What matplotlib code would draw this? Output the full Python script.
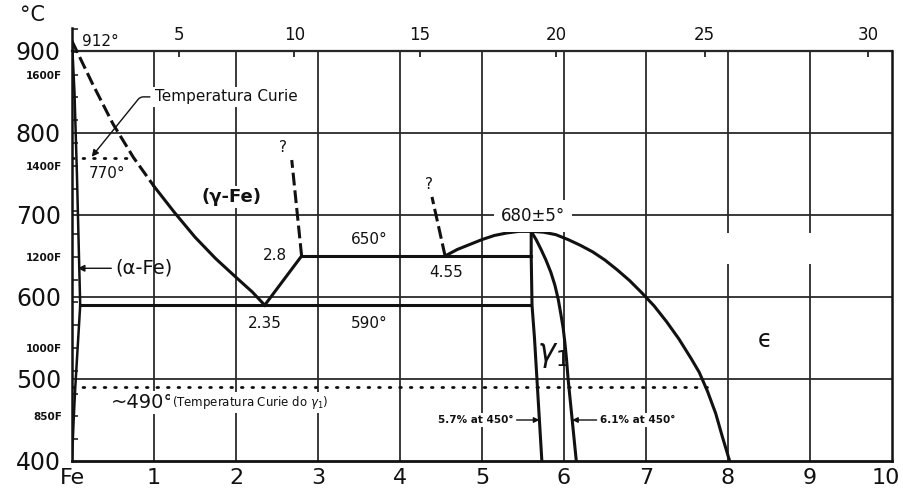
import matplotlib
matplotlib.use("Agg")
import matplotlib.pyplot as plt
from matplotlib.transforms import ScaledTranslation
import numpy as np

# Fe-N equilibrium diagram, iron-rich side (x: wt% N, y: temperature in °C)

# gamma / (alpha + gamma) boundary, from 912 °C down to the eutectoid
gamma_bound_x = [0.0, 0.25, 0.5, 0.75, 1.0, 1.25, 1.5, 1.75, 2.0, 2.2, 2.35]
gamma_bound_t = [912, 860, 811, 770, 735, 703, 673, 647, 624, 606, 590]
gamma_dashed_upto = 1.0

# alpha field boundaries along the Fe axis
alpha_upper_x = [0.0, 0.03, 0.06, 0.08, 0.1]
alpha_upper_t = [912, 850, 750, 670, 590]
alpha_solvus_x = [0.1, 0.07, 0.04, 0.02, 0.0]
alpha_solvus_t = [590, 540, 490, 450, 400]

# gamma / (gamma + gamma1) boundary and uncertain extension
gamma_right_x = [2.35, 2.8]
gamma_right_t = [590, 650]
gamma_right_q_x = [2.8, 2.68]
gamma_right_q_t = [650, 767]

# invariant lines
eutectoid_x = [0.1, 5.6]
eutectoid_t = [590, 590]
peritectoid_x = [2.8, 5.6]
peritectoid_t = [650, 650]

# uncertain boundary above 4.55 %
eps_q_x = [4.55, 4.39]
eps_q_t = [650, 722]

# epsilon boundary (dome through the 680 °C maximum)
eps_x = [4.55, 4.7, 4.85, 5.0, 5.15, 5.3, 5.45, 5.6, 5.75, 5.9, 6.05, 6.2, 6.35, 6.5,
         6.65, 6.8, 6.95, 7.1, 7.25, 7.4, 7.55, 7.65, 7.75, 7.85, 7.93, 8.02]
eps_t = [650, 658, 664, 670, 675, 678, 680, 680, 679, 676, 670, 663, 655, 645,
         633, 620, 605, 589, 570, 549, 525, 508, 485, 458, 430, 400]

# gamma1 (Fe4N) single-phase field
g1_left_x = [5.6, 5.6, 5.61, 5.64, 5.67, 5.7, 5.73]
g1_left_t = [680, 650, 590, 550, 500, 450, 400]
g1_right_x = [5.6, 5.66, 5.72, 5.78, 5.84, 5.89, 5.93, 5.96, 5.99, 6.01, 6.03, 6.05,
              6.075, 6.1, 6.125, 6.15]
g1_right_t = [680, 670, 658, 645, 630, 614, 597, 580, 562, 545, 525, 500,
              475, 450, 425, 400]

# magnetic transitions
curie_alpha_x = [0.0, 0.73]
curie_alpha_t = [770, 770]
curie_g1_x = [0.0, 7.75]
curie_g1_t = [490, 490]

# axes ticks and labels
x_ticks = list(range(0, 11))
x_labels = ["Fe"] + [str(v) for v in range(1, 11)]
y_ticks = [400, 500, 600, 700, 800, 900]
top_ticks = [5, 10, 15, 20, 25, 30]
fahrenheit_ticks = list(range(800, 1701, 50))
fahrenheit_labeled = [850, 1000, 1200, 1400, 1600]

A_N, A_FE = 14.007, 55.845


def wt_to_at(w):
    w = np.clip(np.asarray(w, dtype=float), 0, 99.999)
    n = w / A_N
    return 100 * n / (n + (100 - w) / A_FE)


def at_to_wt(a):
    a = np.clip(np.asarray(a, dtype=float), 0, 99.999)
    return 100 * a * A_N / (a * A_N + (100 - a) * A_FE)


def f_to_c(f):
    return (f - 32) * 5.0 / 9.0


INK = "#111111"
GRID = "#2a2a2a"
LW = 2.2

fig = plt.figure(figsize=(9.04, 4.93), dpi=100)
ax = fig.add_axes([72 / 904, 1 - 461 / 493, (892 - 72) / 904, (461 - 28) / 493])
ax.set_xlim(0, 10)
ax.set_ylim(400, 928)

# grid (the 8 and 9 verticals are interrupted in the epsilon field)
for xv in range(1, 10):
    if xv in (8, 9):
        ax.vlines(xv, 400, 640, color=GRID, lw=1.3, zorder=1)
        ax.vlines(xv, 678, 900, color=GRID, lw=1.3, zorder=1)
    else:
        ax.vlines(xv, 400, 900, color=GRID, lw=1.3, zorder=1)
for yv in [500, 600, 700, 800, 900]:
    ax.hlines(yv, 0, 10, color=GRID, lw=1.3, zorder=1)

# spines
for s in ax.spines.values():
    s.set_color(INK)
ax.spines["top"].set_visible(False)
ax.spines["left"].set_linewidth(1.8)
ax.spines["bottom"].set_linewidth(2.0)
ax.spines["right"].set_linewidth(1.8)
ax.spines["right"].set_bounds(400, 900)

# phase boundaries
n_dash = sum(1 for v in gamma_bound_x if v <= gamma_dashed_upto)
ax.plot(gamma_bound_x[:n_dash], gamma_bound_t[:n_dash], color=INK, lw=LW,
        dashes=(4.2, 1.6), zorder=4)
ax.plot(gamma_bound_x[n_dash - 1:], gamma_bound_t[n_dash - 1:], color=INK, lw=LW, zorder=4)
ax.plot(alpha_upper_x, alpha_upper_t, color=INK, lw=1.8, zorder=4)
ax.plot(alpha_solvus_x, alpha_solvus_t, color=INK, lw=1.8, zorder=4)
ax.plot(gamma_right_x, gamma_right_t, color=INK, lw=LW, zorder=4)
ax.plot(gamma_right_q_x, gamma_right_q_t, color=INK, lw=LW, dashes=(4.2, 1.6), zorder=4)
ax.plot(eutectoid_x, eutectoid_t, color=INK, lw=LW, zorder=4)
ax.plot(peritectoid_x, peritectoid_t, color=INK, lw=LW, zorder=4)
ax.plot(eps_q_x, eps_q_t, color=INK, lw=LW, dashes=(4.2, 1.6), zorder=4)
ax.plot(eps_x, eps_t, color=INK, lw=LW, zorder=4, solid_joinstyle="round")
ax.plot(g1_left_x, g1_left_t, color=INK, lw=LW, zorder=4)
ax.plot(g1_right_x, g1_right_t, color=INK, lw=LW, zorder=4, solid_joinstyle="round")

# Curie temperatures (dotted)
ax.plot(curie_alpha_x, curie_alpha_t, color=INK, lw=2.0, dashes=(0.6, 3.2),
        dash_capstyle="round", zorder=3)
ax.plot(curie_g1_x, curie_g1_t, color=INK, lw=2.0, dashes=(0.6, 3.2),
        dash_capstyle="round", zorder=3)

# ticks: Celsius major, Fahrenheit minor on the left
ax.set_xticks(x_ticks, x_labels)
ax.set_yticks(y_ticks, [str(v) for v in y_ticks])
ax.tick_params(axis="x", length=0, pad=5, labelsize=16, colors=INK)
ax.tick_params(axis="y", which="major", length=0, pad=8, labelsize=17, colors=INK)
f_pos = [f_to_c(f) for f in fahrenheit_ticks]
f_lab = [f"{f}F" if f in fahrenheit_labeled else "" for f in fahrenheit_ticks]
ax.set_yticks(f_pos, f_lab, minor=True)
ax.tick_params(axis="y", which="minor", direction="in", length=4.5, width=1.1,
               pad=7, labelsize=7.5, colors=INK)
for lab in ax.get_yticklabels(minor=True):
    lab.set_fontweight("bold")
ax.tick_params(axis="y", which="both", right=False)

# keep the last bottom label inside the figure
last = ax.get_xticklabels()[-1]
last.set_transform(last.get_transform() + ScaledTranslation(-6 / 100, 0, fig.dpi_scale_trans))

# atomic-percent scale along the 900 °C line
sec = ax.secondary_xaxis((900 - 400) / (928 - 400), functions=(wt_to_at, at_to_wt))
sec.set_xticks(top_ticks, [str(v) for v in top_ticks])
sec.tick_params(direction="in", length=4, width=1.2, labelsize=12, pad=5, colors=INK)
sec.spines["top"].set_linewidth(1.6)
sec.spines["top"].set_color(INK)

fig.text(33 / 904, 1 - 15 / 493, "°C", fontsize=15, ha="center", va="center", color=INK)

white = dict(facecolor="white", edgecolor="none", pad=1.5)

ax.text(0.12, 911, "912°", fontsize=11, ha="left", va="center", color=INK, zorder=5)
ax.text(0.43, 751, "770°", fontsize=11, ha="center", va="center", color=INK, zorder=5)
ax.annotate("Temperatura Curie", xy=(0.24, 771), xytext=(1.01, 844),
            fontsize=11, ha="left", va="center", color=INK, zorder=5, bbox=white,
            arrowprops=dict(arrowstyle="-|>", color=INK, lw=1.0, mutation_scale=10,
                            shrinkA=2, shrinkB=0,
                            connectionstyle="angle,angleA=0,angleB=51,rad=3"))
ax.text(1.95, 722, "(γ-Fe)", fontsize=13, fontweight="bold", ha="center", va="center",
        color=INK, zorder=5, bbox=white)
ax.annotate("(α-Fe)", xy=(0.07, 635), xytext=(0.53, 635), fontsize=14,
            ha="left", va="center", color=INK, zorder=5,
            arrowprops=dict(arrowstyle="-|>", color=INK, lw=1.0, mutation_scale=10,
                            shrinkA=1, shrinkB=0))
ax.text(2.47, 650, "2.8", fontsize=11, ha="center", va="center", color=INK, zorder=5)
ax.text(2.35, 568, "2.35", fontsize=11, ha="center", va="center", color=INK, zorder=5)
ax.text(3.63, 670, "650°", fontsize=11, ha="center", va="center", color=INK, zorder=5)
ax.text(3.63, 568, "590°", fontsize=11, ha="center", va="center", color=INK, zorder=5)
ax.text(4.56, 630, "4.55", fontsize=11, ha="center", va="center", color=INK, zorder=5)
ax.text(5.62, 699, "680±5°", fontsize=12, ha="center", va="center", color=INK, zorder=5,
        bbox=dict(facecolor="white", edgecolor="none", pad=5))
ax.text(2.57, 782, "?", fontsize=11, ha="center", va="center", color=INK, zorder=5)
ax.text(4.35, 737, "?", fontsize=11, ha="center", va="center", color=INK, zorder=5)
ax.text(5.86, 529, r"$\gamma_{\rm 1}$", fontsize=22, ha="center", va="center", color=INK, zorder=5)
ax.text(8.45, 548, "ϵ", fontsize=17, ha="center", va="center", color=INK, zorder=5)
ax.text(0.86, 471, "~490°", fontsize=14, ha="center", va="center", color=INK, zorder=5,
        bbox=white)
ax.text(1.22, 471, r"(Temperatura Curie do $\gamma_{\rm 1}$)", fontsize=8.5, ha="left",
        va="center", color=INK, zorder=5, bbox=white)
ax.annotate("5.7% at 450°", xy=(5.7, 450), xytext=(5.38, 450), fontsize=7.5,
            fontweight="bold", ha="right", va="center", color=INK, zorder=5, bbox=white,
            arrowprops=dict(arrowstyle="-|>", color=INK, lw=1.0, mutation_scale=8,
                            shrinkA=1, shrinkB=0))
ax.annotate("6.1% at 450°", xy=(6.1, 450), xytext=(6.44, 450), fontsize=7.5,
            fontweight="bold", ha="left", va="center", color=INK, zorder=5, bbox=white,
            arrowprops=dict(arrowstyle="-|>", color=INK, lw=1.0, mutation_scale=8,
                            shrinkA=1, shrinkB=0))

fig.savefig("out.png", dpi=100, facecolor="white")
